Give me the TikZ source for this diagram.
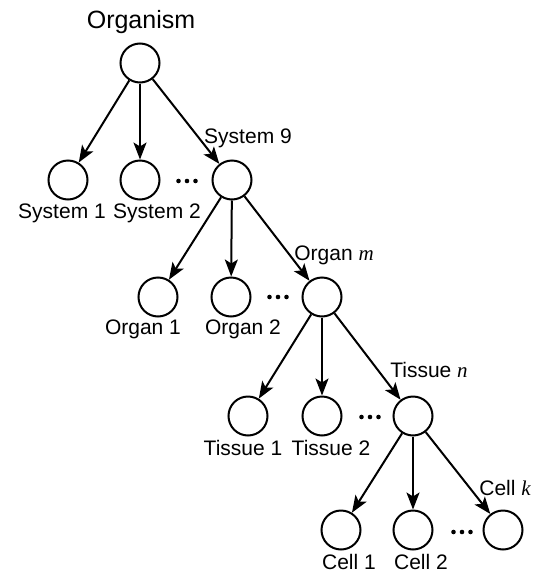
\documentclass[tikz,border=0pt]{standalone}
\usepackage{fontspec}
\setmainfont{Liberation Sans}
\newfontfamily\itserif{Liberation Serif}
\usetikzlibrary{arrows.meta}
\begin{document}
\begin{tikzpicture}[x=1pt,y=-1pt,
  unit/.style={circle,draw,line width=2pt,minimum size=39pt,inner sep=0pt},
  lbl/.style={inner sep=0pt,font=\fontsize{21}{21}\selectfont},
  dots/.style={minimum width=22pt,minimum height=6pt,inner sep=0pt,
    path picture={
      \fill (path picture bounding box.center) circle (2.3pt);
      \fill ([xshift=-8.5pt]path picture bounding box.center) circle (2.3pt);
      \fill ([xshift=8.5pt]path picture bounding box.center) circle (2.3pt);}},
  link/.style={line width=2pt,-{Stealth[length=17pt,width=13pt,inset=4pt]}}]
\useasboundingbox (0,0) rectangle (541,576);
% level 1
\node[unit] (o) at (140,63) {};
\node[inner sep=0pt,font=\fontsize{25}{25}\selectfont] (lo) at (141,22) {Organism};
% level 2
\node[unit] (s1) at (68,180) {};
\node[unit] (s2) at (140,180) {};
\node[unit] (s9) at (232,180) {};
\node[dots] (d2) at (187,181) {};
\node[lbl] (ls1) at (62,213) {System 1};
\node[lbl] (ls2) at (157,213) {System 2};
\node[lbl] (ls9) at (248,138) {System 9};
% level 3
\node[unit] (g1) at (158,297) {};
\node[unit] (g2) at (231,297) {};
\node[unit] (gm) at (322,297) {};
\node[dots] (d3) at (278,297) {};
\node[lbl] (lg1) at (143,329) {Organ 1};
\node[lbl] (lg2) at (243,329) {Organ 2};
\node[lbl] (lgm) at (334,255) {Organ {\itserif\itshape m}};
% level 4
\node[unit] (t1) at (248,416) {};
\node[unit] (t2) at (322,416) {};
\node[unit] (tn) at (413,416) {};
\node[dots] (d4) at (370,417) {};
\node[lbl] (lt1) at (243,448) {Tissue 1};
\node[lbl] (lt2) at (331,448) {Tissue 2};
\node[lbl] (ltn) at (429,370) {Tissue {\itserif\itshape n}};
% level 5
\node[unit] (c1) at (341,530) {};
\node[unit] (c2) at (413,530) {};
\node[unit] (ck) at (503,530) {};
\node[dots] (d5) at (462,532) {};
\node[lbl] (lc1) at (349,562) {Cell 1};
\node[lbl] (lc2) at (421,562) {Cell 2};
\node[lbl] (lck) at (505,488) {Cell {\itserif\itshape k}};
% links
\draw[link] (o) -- (s1);
\draw[link] (o) -- (s2);
\draw[link] (o) -- (s9);
\draw[link] (s9) -- (g1);
\draw[link] (s9) -- (g2);
\draw[link] (s9) -- (gm);
\draw[link] (gm) -- (t1);
\draw[link] (gm) -- (t2);
\draw[link] (gm) -- (tn);
\draw[link] (tn) -- (c1);
\draw[link] (tn) -- (c2);
\draw[link] (tn) -- (ck);
\end{tikzpicture}
\end{document}
